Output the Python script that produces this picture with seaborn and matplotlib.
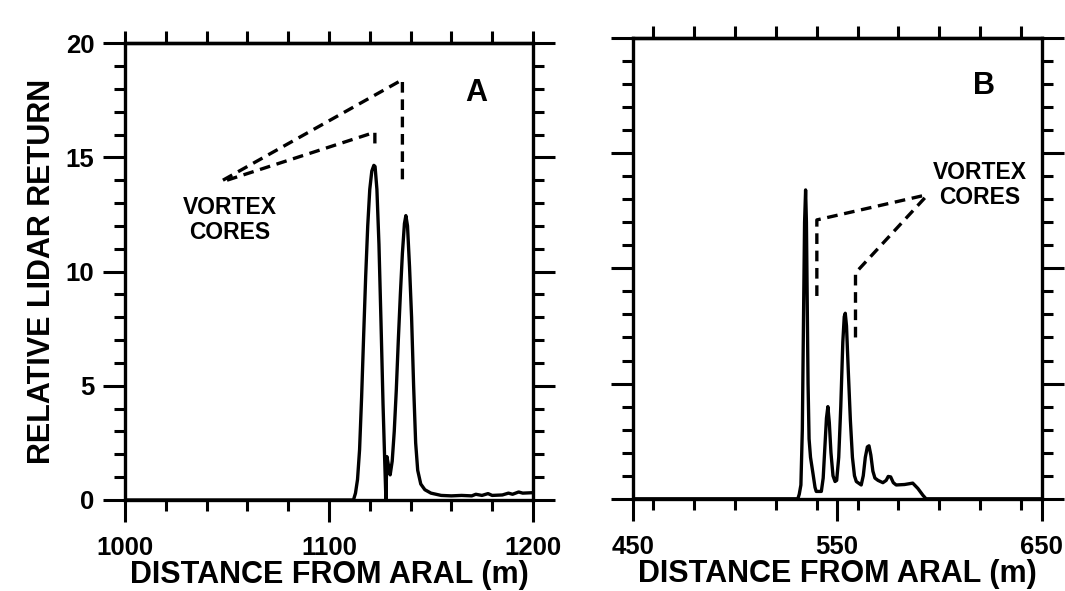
import seaborn as sns
import matplotlib.pyplot as plt
from matplotlib.ticker import MultipleLocator, NullFormatter
import pandas as pd

# Panel A: lidar return vs distance (m)
dist_a = [1000, 1112, 1113, 1114, 1115, 1116, 1117, 1118, 1119, 1120, 1121, 1122, 1122.6,
          1123.5, 1124.5, 1125.5, 1126.5, 1127.3, 1127.9, 1128.4, 1129.2, 1130, 1131, 1132,
          1133, 1134, 1135, 1136, 1137, 1137.7, 1138.5, 1139.5, 1140.5, 1141.5, 1142.5,
          1143.5, 1145, 1147, 1150, 1155, 1160, 1165, 1170, 1172, 1175, 1178, 1180, 1185,
          1188, 1190, 1193, 1195, 1200]
ret_a = [0, 0, 0.3, 0.9, 2.2, 4.5, 7.2, 9.8, 12.0, 13.6, 14.4, 14.65, 14.6,
         13.6, 11.2, 7.8, 4.2, 1.8, 0.05, 1.9, 1.5, 1.1, 1.7, 3.0,
         4.8, 7.0, 9.0, 10.8, 12.1, 12.45, 12.0, 10.2, 8.0, 5.0, 2.5,
         1.3, 0.7, 0.45, 0.3, 0.2, 0.18, 0.2, 0.18, 0.25, 0.2, 0.28, 0.2, 0.22,
         0.3, 0.25, 0.35, 0.3, 0.32]

# Panel B
dist_b = [450, 530.8, 531.5, 532.3, 533, 533.6, 534.1, 534.6, 535.0, 535.4, 535.8, 536.3,
          537, 538.2, 539.2, 539.8, 542.3, 543.2, 544.0, 544.8, 545.5, 546.2, 547, 548,
          549, 549.8, 550.8, 551.8, 552.8, 553.5, 554, 554.6, 555.5, 556.5, 557.5, 558.5,
          559.4, 561.8, 562.8, 563.8, 564.8, 565.6, 566.5, 567.5, 568.5, 570, 572.4, 574,
          575, 576.2, 577.5, 578.9, 583, 587, 589.5, 592, 593.5, 650]
ret_b = [0, 0, 0.2, 0.6, 3.0, 8.0, 12.0, 13.4, 12.0, 8.5, 5.0, 2.6,
         1.8, 1.1, 0.5, 0.32, 0.32, 0.9, 2.2, 3.5, 4.0, 3.3, 2.0, 1.0,
         0.75, 0.8, 1.8, 4.0, 6.8, 7.9, 8.05, 7.5, 5.5, 3.4, 1.8, 1.0,
         0.75, 0.6, 1.0, 1.8, 2.25, 2.3, 1.9, 1.2, 0.9, 0.8, 0.7, 0.8,
         0.97, 0.95, 0.7, 0.6, 0.62, 0.68, 0.45, 0.15, 0, 0]

# annotation leader lines (data coords)
lead_a = [([1048, 1136, 1136], [14.0, 18.4, 14.0]),
          ([1050, 1122.5, 1122.5], [14.0, 16.1, 15.4])]
lead_b = [([540.1, 540.1, 594.4], [8.8, 12.1, 13.2]),
          ([559, 559, 594.4], [7.0, 9.8, 13.2])]

xticks_a = [1000, 1100, 1200]
xticks_b = [450, 550, 650]

sns.set_style("ticks")
plt.rcParams['font.family'] = ['Liberation Sans', 'DejaVu Sans']
plt.rcParams['font.weight'] = 'bold'
for k in ['text.color', 'axes.labelcolor', 'xtick.color', 'ytick.color', 'axes.edgecolor']:
    plt.rcParams[k] = 'black'

fig = plt.figure(figsize=(10.65, 5.91), dpi=100)
ax_a = fig.add_axes([0.1174, 0.154, 0.383, 0.773])
ax_b = fig.add_axes([0.594, 0.156, 0.384, 0.780])

panels = [
    (ax_a, dist_a, ret_a, (1000, 1200), xticks_a, lead_a, (1051.5, 12.25), (1172.4, 17.8), "A"),
    (ax_b, dist_b, ret_b, (450, 650), xticks_b, lead_b, (619.7, 13.6), (622, 17.9), "B"),
]

for ax, xs, ys, xlim, xt, leads, txt_pos, lab_pos, lab in panels:
    df = pd.DataFrame({"dist": xs, "ret": ys})
    sns.lineplot(data=df, x="dist", y="ret", ax=ax, color="black", linewidth=2.4,
                 sort=False, estimator=None)
    for lx, ly in leads:
        ax.plot(lx, ly, color="black", linewidth=2.4, linestyle=(0, (3.2, 2.0)))
    ax.text(txt_pos[0], txt_pos[1], "VORTEX\nCORES", ha="center", va="center",
            fontsize=16.5, fontweight="bold", linespacing=1.1)
    ax.text(lab_pos[0], lab_pos[1], lab, ha="center", va="center",
            fontsize=22, fontweight="bold")
    ax.set_xlim(*xlim)
    ax.set_ylim(0, 20)
    ax.set_xticks(xt)
    ax.xaxis.set_minor_locator(MultipleLocator(20))
    ax.yaxis.set_major_locator(MultipleLocator(5))
    ax.yaxis.set_minor_locator(MultipleLocator(1))
    ax.tick_params(which="both", direction="out", right=True, top=False,
                   width=2.2, labelsize=18.5)
    ax.tick_params(which="major", length=16)
    ax.tick_params(which="minor", length=8)
    ax.tick_params(axis="x", pad=10)
    ax.tick_params(axis="y", pad=6)
    for lbl in ax.get_xticklabels() + ax.get_yticklabels():
        lbl.set_fontweight("bold")
    for s in ax.spines.values():
        s.set_linewidth(2.4)
    # top axis: uniform short ticks every 20 m
    top = ax.secondary_xaxis("top")
    top.xaxis.set_major_locator(MultipleLocator(20))
    top.xaxis.set_major_formatter(NullFormatter())
    top.tick_params(direction="out", length=9, width=2.2, color="black")
    top.spines["top"].set_linewidth(2.4)
    ax.set_xlabel("DISTANCE FROM ARAL (m)", fontsize=22, fontweight="bold", labelpad=0)

ax_a.set_ylabel("RELATIVE LIDAR RETURN", fontsize=22, fontweight="bold", labelpad=6)
ax_b.set_ylabel("")
ax_b.set_yticklabels([])

fig.savefig("out.png", dpi=100)
